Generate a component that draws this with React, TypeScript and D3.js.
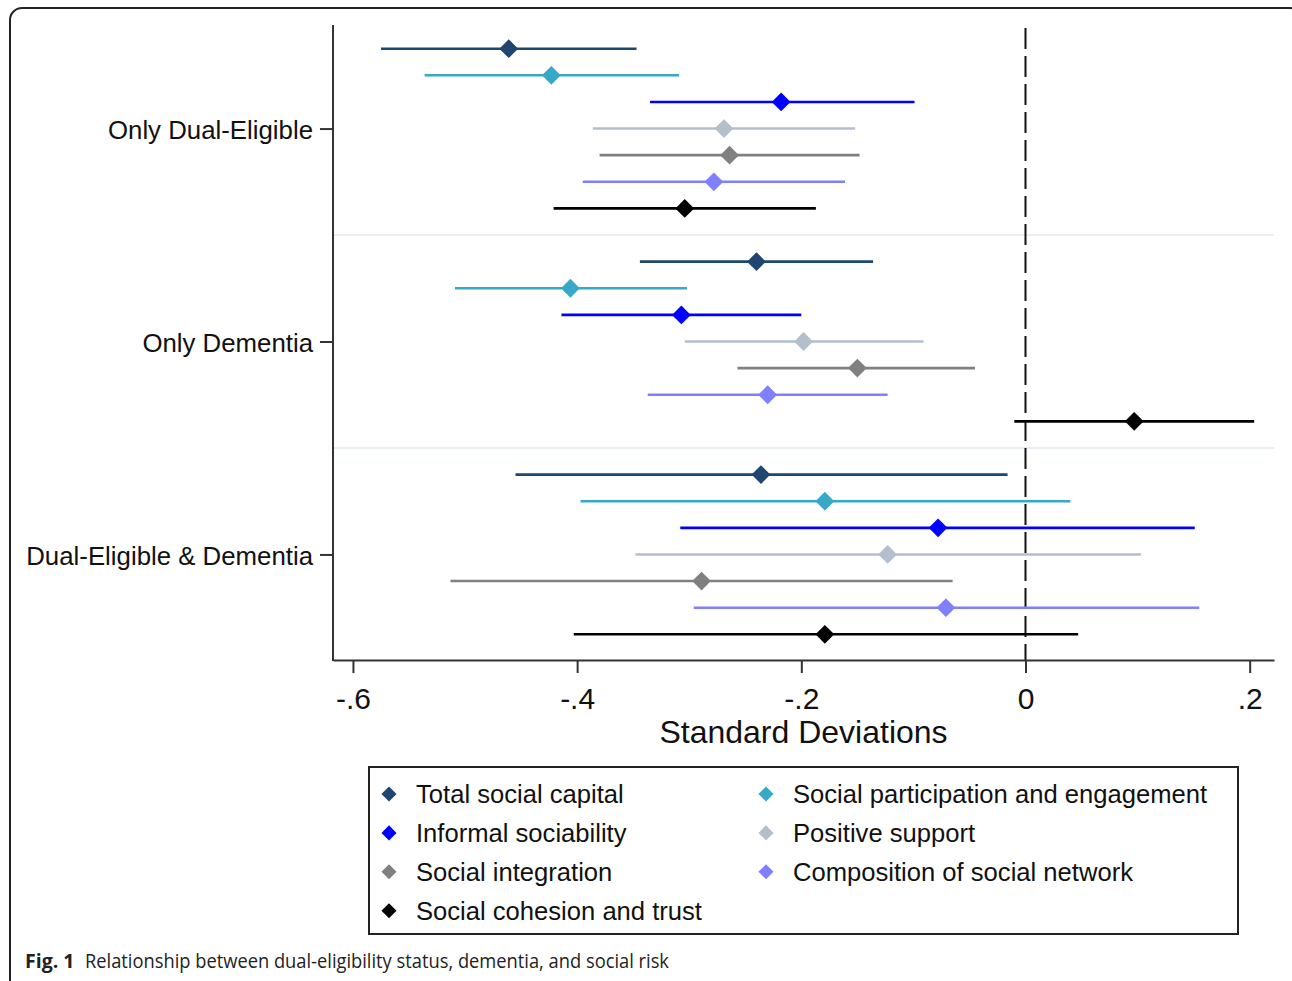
import React, {useRef, useEffect} from 'react'
import * as d3 from 'd3'

// categories on the y axis (top to bottom)
const categories = ['Only Dual-Eligible', 'Only Dementia', 'Dual-Eligible & Dementia']

// social risk measures, in plotting order within each category
const measures = [
  'Total social capital',
  'Social participation and engagement',
  'Informal sociability',
  'Positive support',
  'Social integration',
  'Composition of social network',
  'Social cohesion and trust',
]
const measureColors = ['#1f4670', '#36a9c9', '#0000ff', '#b3bfcc', '#808080', '#8080ff', '#000000']

// point estimates and 95% CI bounds, one entry per measure
const onlyDualEst = [-0.461, -0.423, -0.218, -0.269, -0.264, -0.278, -0.304]
const onlyDualLo = [-0.575, -0.536, -0.335, -0.386, -0.38, -0.395, -0.421]
const onlyDualHi = [-0.347, -0.309, -0.099, -0.152, -0.148, -0.161, -0.187]

const onlyDemEst = [-0.24, -0.406, -0.307, -0.198, -0.15, -0.23, 0.097]
const onlyDemLo = [-0.344, -0.509, -0.414, -0.304, -0.257, -0.337, -0.01]
const onlyDemHi = [-0.136, -0.302, -0.2, -0.091, -0.045, -0.123, 0.204]

const bothEst = [-0.236, -0.179, -0.078, -0.123, -0.289, -0.071, -0.179]
const bothLo = [-0.455, -0.397, -0.308, -0.348, -0.513, -0.296, -0.403]
const bothHi = [-0.016, 0.04, 0.151, 0.103, -0.065, 0.155, 0.047]

const xTicks = [-0.6, -0.4, -0.2, 0, 0.2]
const xTickLabels = ['-.6', '-.4', '-.2', '0', '.2']

const FONT = "'Liberation Sans', Arial, sans-serif"

function App() {
  const ref: any = useRef<SVGSVGElement>(null)

  useEffect(() => {
    const svg = d3.select(ref.current)
    svg.selectAll('*').remove()

    const left = 333
    const right = 1274
    const top = 25
    const bottom = 660

    const xScale = d3.scaleLinear().domain([-0.6178, 0.2217]).range([left, right])
    // 7 rows per group plus one spacer row between groups
    const yScale = d3.scaleLinear().domain([0, 22]).range([48.7, 634.3])

    const groups = [
      {est: onlyDualEst, lo: onlyDualLo, hi: onlyDualHi},
      {est: onlyDemEst, lo: onlyDemLo, hi: onlyDemHi},
      {est: bothEst, lo: bothLo, hi: bothHi},
    ]
    const rows: any[] = []
    groups.forEach((g, gi) => {
      measures.forEach((m, mi) => {
        rows.push({
          idx: gi * 8 + mi,
          est: g.est[mi],
          lo: g.lo[mi],
          hi: g.hi[mi],
          color: measureColors[mi],
        })
      })
    })

    // outer frame
    svg
      .append('rect')
      .attr('x', 10)
      .attr('y', 8)
      .attr('width', 1292)
      .attr('height', 984)
      .attr('rx', 12)
      .attr('fill', 'none')
      .attr('stroke', '#222')
      .attr('stroke-width', 2)

    // group separators
    svg
      .selectAll('.sep')
      .data([7, 15])
      .join('line')
      .attr('class', 'sep')
      .attr('x1', left)
      .attr('x2', right)
      .attr('y1', d => yScale(d))
      .attr('y2', d => yScale(d))
      .attr('stroke', '#eaeef5')
      .attr('stroke-width', 2)

    // reference line at 0
    svg
      .append('line')
      .attr('x1', xScale(0))
      .attr('x2', xScale(0))
      .attr('y1', top + 3)
      .attr('y2', bottom)
      .attr('stroke', '#111')
      .attr('stroke-width', 2)
      .attr('stroke-dasharray', '21 7')

    // confidence intervals
    svg
      .selectAll('.ci')
      .data(rows)
      .join('line')
      .attr('class', 'ci')
      .attr('x1', (d: any) => xScale(d.lo))
      .attr('x2', (d: any) => xScale(d.hi))
      .attr('y1', (d: any) => yScale(d.idx))
      .attr('y2', (d: any) => yScale(d.idx))
      .attr('stroke', (d: any) => d.color)
      .attr('stroke-width', 2.6)

    const diamond = d3.symbol().type(d3.symbolDiamond2).size(225)
    svg
      .selectAll('.pt')
      .data(rows)
      .join('path')
      .attr('class', 'pt')
      .attr('d', diamond as any)
      .attr('transform', (d: any) => `translate(${xScale(d.est)},${yScale(d.idx)})`)
      .attr('fill', (d: any) => d.color)

    // y axis
    svg
      .append('line')
      .attr('x1', left)
      .attr('x2', left)
      .attr('y1', top)
      .attr('y2', bottom + 1)
      .attr('stroke', '#333')
      .attr('stroke-width', 2)

    const catScale: any = d3
      .scaleOrdinal()
      .domain(categories)
      .range(categories.map((c, i) => yScale(i * 8 + 3)))
    const yAxis = svg
      .append('g')
      .attr('transform', `translate(${left},0)`)
      .call(d3.axisLeft(catScale).tickSize(13).tickPadding(7) as any)
    yAxis.select('.domain').remove()
    yAxis.selectAll('line').attr('stroke', '#333').attr('stroke-width', 2)
    yAxis
      .selectAll('text')
      .attr('font-family', FONT)
      .attr('font-size', 25.8)
      .attr('fill', '#111')
      .attr('dy', '0.38em')

    // x axis
    const xAxis = svg
      .append('g')
      .attr('transform', `translate(0,${bottom})`)
      .call(
        d3
          .axisBottom(xScale)
          .tickValues(xTicks)
          .tickFormat((d, i) => xTickLabels[i])
          .tickSize(13)
          .tickSizeOuter(0)
          .tickPadding(15) as any,
      )
    xAxis.select('.domain').attr('stroke', '#333').attr('stroke-width', 2)
    xAxis.selectAll('line').attr('stroke', '#333').attr('stroke-width', 2)
    xAxis
      .selectAll('text')
      .attr('font-family', FONT)
      .attr('font-size', 30)
      .attr('fill', '#111')

    svg
      .append('text')
      .attr('x', (left + right) / 2)
      .attr('y', 743)
      .attr('text-anchor', 'middle')
      .attr('font-family', FONT)
      .attr('font-size', 32)
      .attr('fill', '#111')
      .text('Standard Deviations')

    // legend
    svg
      .append('rect')
      .attr('x', 369)
      .attr('y', 767)
      .attr('width', 869)
      .attr('height', 167)
      .attr('fill', 'none')
      .attr('stroke', '#222')
      .attr('stroke-width', 2)

    const legendDiamond = d3.symbol().type(d3.symbolDiamond2).size(145)
    const legend = svg
      .selectAll('.leg')
      .data(measures)
      .join('g')
      .attr('class', 'leg')
      .attr(
        'transform',
        (d, i) => `translate(${i % 2 === 0 ? 389 : 766},${794 + Math.floor(i / 2) * 38.9})`,
      )
    legend
      .append('path')
      .attr('d', legendDiamond as any)
      .attr('fill', (d, i) => measureColors[i])
    legend
      .append('text')
      .attr('x', 27)
      .attr('dy', '0.36em')
      .attr('font-family', FONT)
      .attr('font-size', 25.6)
      .attr('fill', '#111')
      .text(d => d)

    // figure caption
    svg
      .append('text')
      .attr('x', 25)
      .attr('y', 968)
      .attr('font-family', "'Open Sans', sans-serif")
      .attr('font-weight', 'bold')
      .attr('font-size', 19.5)
      .attr('fill', '#222')
      .text('Fig. 1')
    svg
      .append('text')
      .attr('x', 85)
      .attr('y', 968)
      .attr('font-family', "'Open Sans', sans-serif")
      .attr('font-size', 19.5)
      .attr('fill', '#222')
      .attr('textLength', 584)
      .attr('lengthAdjust', 'spacingAndGlyphs')
      .text('Relationship between dual-eligibility status, dementia, and social risk')
  }, [])

  return (
    <svg
      ref={ref}
      width={1292}
      height={981}
      style={{position: 'absolute', left: 0, top: 0, background: '#fff'}}
    />
  )
}

export default App
